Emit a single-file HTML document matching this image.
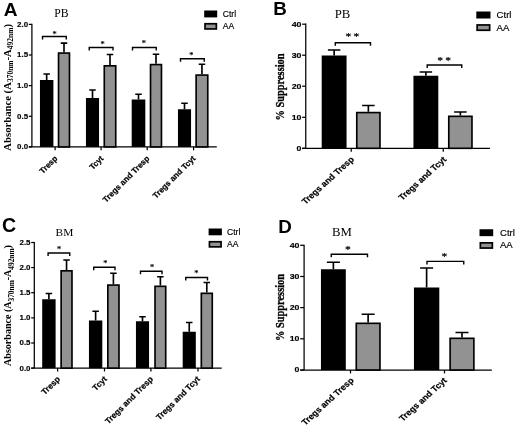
<!DOCTYPE html>
<html lang="en"><head><meta charset="utf-8"><title>Figure</title>
<style>
html,body{margin:0;padding:0;background:#fff;}
body{width:520px;height:427px;overflow:hidden;}
svg{display:block;filter:blur(0.3px);}
text{fill:#000;}
.pl{font:bold 17px "Liberation Sans",Arial,sans-serif;}
.tt{font:12px "Liberation Serif","Times New Roman",serif;}
.yl{font:bold 8px "Liberation Sans",Arial,sans-serif;stroke:#000;stroke-width:0.15px;}
.xl{font:bold 9px "Liberation Sans",Arial,sans-serif;stroke:#000;stroke-width:0.2px;}
.lg{font:8.6px "Liberation Sans",Arial,sans-serif;stroke:#000;stroke-width:0.15px;}
.yt{font:bold 10.5px "Liberation Serif","Times New Roman",serif;}
.star{font:8px "Liberation Serif","Times New Roman",serif;stroke:#000;stroke-width:0.2px;}
</style></head>
<body>
<svg width="520" height="427" viewBox="0 0 520 427">
<rect width="520" height="427" fill="#fff"/>
<text transform="translate(10.6 87.3) rotate(-90)" class="yt" style="font-size:10.7px" text-anchor="middle">Absorbance (A<tspan style="font-size:7.5px" dy="2.2">370nm</tspan><tspan dy="-2.2">-A</tspan><tspan style="font-size:7.5px" dy="2.2">492nm</tspan><tspan dy="-2.2">)</tspan></text>
<text transform="translate(3.70 15.50)" class="pl" style="font-size:19.1px">A</text>
<text transform="translate(61.50 17.30)" class="tt" style="font-size:11.7px" text-anchor="middle">PB</text>
<path d="M31.9 23.799999999999997V146.9M28.799999999999997 146.9H216.8" stroke="#000" stroke-width="1.25" fill="none"/>
<path d="M28.799999999999997 24.4H31.9" stroke="#000" stroke-width="1.25"/>
<text transform="translate(28.10 26.85)" class="yl" style="font-size:7.9px" text-anchor="end">2.0</text>
<path d="M28.799999999999997 55H31.9" stroke="#000" stroke-width="1.25"/>
<text transform="translate(28.10 57.45)" class="yl" style="font-size:7.9px" text-anchor="end">1.5</text>
<path d="M28.799999999999997 85.6H31.9" stroke="#000" stroke-width="1.25"/>
<text transform="translate(28.10 88.05)" class="yl" style="font-size:7.9px" text-anchor="end">1.0</text>
<path d="M28.799999999999997 116.3H31.9" stroke="#000" stroke-width="1.25"/>
<text transform="translate(28.10 118.75)" class="yl" style="font-size:7.9px" text-anchor="end">0.5</text>
<path d="M28.799999999999997 146.9H31.9" stroke="#000" stroke-width="1.25"/>
<text transform="translate(28.10 149.35)" class="yl" style="font-size:7.9px" text-anchor="end">0.0</text>
<path d="M55.1 146.9V150.3" stroke="#000" stroke-width="1.25"/>
<path d="M101.1 146.9V150.3" stroke="#000" stroke-width="1.25"/>
<path d="M147.2 146.9V150.3" stroke="#000" stroke-width="1.25"/>
<path d="M193.6 146.9V150.3" stroke="#000" stroke-width="1.25"/>
<rect x="204.2" y="10.5" width="13" height="6.9" fill="#000"/>
<rect x="205.04999999999998" y="23.75" width="11.3" height="5.2" fill="#929292" stroke="#000" stroke-width="1.7"/>
<text transform="translate(222.70 16.80)" class="lg" style="font-size:8.6px">Ctrl</text>
<text transform="translate(222.70 29.30)" class="lg" style="font-size:8.6px">AA</text>
<path d="M46.67 80.00V74.00M43.42 74.00H49.92" stroke="#000" stroke-width="1.65" fill="none"/>
<rect x="39.95" y="80.00" width="13.45" height="66.90" fill="#000"/>
<path d="M64.00 52.25V43.10M60.75 43.10H67.25" stroke="#000" stroke-width="1.65" fill="none"/>
<rect x="58.53" y="53.08" width="10.95" height="93.83" fill="#929292" stroke="#000" stroke-width="1.65"/>
<path d="M42.50 39.50V36.50H66.25V39.50" stroke="#000" stroke-width="1.4" fill="none"/>
<text transform="translate(54.60 36.73)" class="star" style="font-size:8.4px" text-anchor="middle">*</text>
<path d="M92.50 98.00V90.00M89.25 90.00H95.75" stroke="#000" stroke-width="1.65" fill="none"/>
<rect x="85.95" y="98.00" width="13.10" height="48.90" fill="#000"/>
<path d="M110.00 65.00V54.50M106.75 54.50H113.25" stroke="#000" stroke-width="1.65" fill="none"/>
<rect x="104.28" y="65.83" width="11.45" height="81.08" fill="#929292" stroke="#000" stroke-width="1.65"/>
<path d="M89.25 50.50V47.50H113.00V50.50" stroke="#000" stroke-width="1.4" fill="none"/>
<text transform="translate(102.50 47.23)" class="star" style="font-size:8.4px" text-anchor="middle">*</text>
<path d="M138.50 99.50V94.25M135.25 94.25H141.75" stroke="#000" stroke-width="1.65" fill="none"/>
<rect x="131.70" y="99.50" width="13.60" height="47.40" fill="#000"/>
<path d="M156.00 63.75V54.25M152.75 54.25H159.25" stroke="#000" stroke-width="1.65" fill="none"/>
<rect x="150.52" y="64.58" width="10.95" height="82.33" fill="#929292" stroke="#000" stroke-width="1.65"/>
<path d="M132.50 50.50V47.50H156.25V50.50" stroke="#000" stroke-width="1.4" fill="none"/>
<text transform="translate(143.75 45.98)" class="star" style="font-size:8.4px" text-anchor="middle">*</text>
<path d="M184.50 109.25V103.25M181.25 103.25H187.75" stroke="#000" stroke-width="1.65" fill="none"/>
<rect x="177.95" y="109.25" width="13.10" height="37.65" fill="#000"/>
<path d="M201.95 74.25V64.25M198.70 64.25H205.20" stroke="#000" stroke-width="1.65" fill="none"/>
<rect x="196.12" y="75.08" width="11.65" height="71.83" fill="#929292" stroke="#000" stroke-width="1.65"/>
<path d="M180.50 61.75V58.75H204.25V61.75" stroke="#000" stroke-width="1.4" fill="none"/>
<text transform="translate(191.25 57.83)" class="star" style="font-size:8.4px" text-anchor="middle">*</text>
<text transform="translate(58.00 159.00) rotate(-45)" class="xl" style="font-size:8.1px" text-anchor="end">Tresp</text>
<text transform="translate(104.00 159.00) rotate(-45)" class="xl" style="font-size:8.1px" text-anchor="end">Tcyt</text>
<text transform="translate(150.00 159.00) rotate(-45)" class="xl" style="font-size:8.1px" text-anchor="end">Tregs and Tresp</text>
<text transform="translate(196.00 159.00) rotate(-45)" class="xl" style="font-size:8.1px" text-anchor="end">Tregs and Tcyt</text>
<text transform="translate(284.00 87.00) scale(1.1 1) rotate(-90)" class="yt" style="font-size:10.4px" text-anchor="middle" stroke="#000" stroke-width="0.3">% Suppression</text>
<text transform="translate(273.30 14.80)" class="pl" style="font-size:18.8px">B</text>
<text transform="translate(342.50 18.20) scale(1.1 1)" class="tt" style="font-size:11.6px" text-anchor="middle">PB</text>
<path d="M305.75 23.599999999999998V148.3M302.15 148.3H490" stroke="#000" stroke-width="1.25" fill="none"/>
<path d="M302.15 24.2H305.75" stroke="#000" stroke-width="1.25"/>
<text transform="translate(301.45 26.68) scale(1.1 1)" class="yl" style="font-size:8.0px" text-anchor="end">40</text>
<path d="M302.15 55.2H305.75" stroke="#000" stroke-width="1.25"/>
<text transform="translate(301.45 57.68) scale(1.1 1)" class="yl" style="font-size:8.0px" text-anchor="end">30</text>
<path d="M302.15 86.2H305.75" stroke="#000" stroke-width="1.25"/>
<text transform="translate(301.45 88.68) scale(1.1 1)" class="yl" style="font-size:8.0px" text-anchor="end">20</text>
<path d="M302.15 117.3H305.75" stroke="#000" stroke-width="1.25"/>
<text transform="translate(301.45 119.78) scale(1.1 1)" class="yl" style="font-size:8.0px" text-anchor="end">10</text>
<path d="M302.15 148.3H305.75" stroke="#000" stroke-width="1.25"/>
<text transform="translate(301.45 150.78) scale(1.1 1)" class="yl" style="font-size:8.0px" text-anchor="end">0</text>
<path d="M351.25 148.3V151.70000000000002" stroke="#000" stroke-width="1.25"/>
<path d="M443.25 148.3V151.70000000000002" stroke="#000" stroke-width="1.25"/>
<rect x="476.3" y="11.5" width="14.2" height="7.0" fill="#000"/>
<rect x="477.15000000000003" y="24.950000000000003" width="12.5" height="5.3" fill="#929292" stroke="#000" stroke-width="1.7"/>
<text transform="translate(496.60 17.90) scale(1.1 1)" class="lg" style="font-size:8.7px">Ctrl</text>
<text transform="translate(496.60 30.60) scale(1.1 1)" class="lg" style="font-size:8.7px">AA</text>
<path d="M334.12 55.50V50.00M327.88 50.00H340.38" stroke="#000" stroke-width="1.65" fill="none"/>
<rect x="321.70" y="55.50" width="24.85" height="92.80" fill="#000"/>
<path d="M368.38 111.75V105.50M362.12 105.50H374.62" stroke="#000" stroke-width="1.65" fill="none"/>
<rect x="356.77" y="112.58" width="23.20" height="35.73" fill="#929292" stroke="#000" stroke-width="1.65"/>
<path d="M335.30 45.80V42.80H370.50V45.80" stroke="#000" stroke-width="1.4" fill="none"/>
<text transform="translate(348.30 40.41) scale(1.1 1)" class="star" style="font-size:10.5px" text-anchor="middle">*</text>
<text transform="translate(356.30 40.41) scale(1.1 1)" class="star" style="font-size:10.5px" text-anchor="middle">*</text>
<path d="M425.88 75.75V72.00M419.62 72.00H432.12" stroke="#000" stroke-width="1.65" fill="none"/>
<rect x="413.45" y="75.75" width="24.85" height="72.55" fill="#000"/>
<path d="M460.38 115.50V112.00M454.12 112.00H466.62" stroke="#000" stroke-width="1.65" fill="none"/>
<rect x="448.77" y="116.33" width="23.20" height="31.98" fill="#929292" stroke="#000" stroke-width="1.65"/>
<path d="M427.20 68.00V65.00H461.75V68.00" stroke="#000" stroke-width="1.4" fill="none"/>
<text transform="translate(440.20 63.91) scale(1.1 1)" class="star" style="font-size:10.5px" text-anchor="middle">*</text>
<text transform="translate(448.20 63.91) scale(1.1 1)" class="star" style="font-size:10.5px" text-anchor="middle">*</text>
<text transform="translate(354.60 160.00) scale(1.1 1) rotate(-45)" class="xl" style="font-size:8.25px" text-anchor="end">Tregs and Tresp</text>
<text transform="translate(447.00 160.00) scale(1.1 1) rotate(-45)" class="xl" style="font-size:8.25px" text-anchor="end">Tregs and Tcyt</text>
<text transform="translate(11.3 305.5) rotate(-90)" class="yt" style="font-size:10.05px" text-anchor="middle">Absorbance (A<tspan style="font-size:7.35px" dy="2.3">370nm</tspan><tspan dy="-2.3">-A</tspan><tspan style="font-size:7.35px" dy="2.3">492nm</tspan><tspan dy="-2.3">)</tspan></text>
<text transform="translate(2.00 232.20)" class="pl" style="font-size:19.6px">C</text>
<text transform="translate(64.40 235.80)" class="tt" style="font-size:11.4px" text-anchor="middle">BM</text>
<path d="M34.3 241.9V368.1M31.199999999999996 368.1H221.75" stroke="#000" stroke-width="1.25" fill="none"/>
<path d="M31.199999999999996 242.5H34.3" stroke="#000" stroke-width="1.25"/>
<text transform="translate(30.50 244.95)" class="yl" style="font-size:7.9px" text-anchor="end">2.5</text>
<path d="M31.199999999999996 267.6H34.3" stroke="#000" stroke-width="1.25"/>
<text transform="translate(30.50 270.05)" class="yl" style="font-size:7.9px" text-anchor="end">2.0</text>
<path d="M31.199999999999996 292.7H34.3" stroke="#000" stroke-width="1.25"/>
<text transform="translate(30.50 295.15)" class="yl" style="font-size:7.9px" text-anchor="end">1.5</text>
<path d="M31.199999999999996 317.9H34.3" stroke="#000" stroke-width="1.25"/>
<text transform="translate(30.50 320.35)" class="yl" style="font-size:7.9px" text-anchor="end">1.0</text>
<path d="M31.199999999999996 343.0H34.3" stroke="#000" stroke-width="1.25"/>
<text transform="translate(30.50 345.45)" class="yl" style="font-size:7.9px" text-anchor="end">0.5</text>
<path d="M31.199999999999996 368.1H34.3" stroke="#000" stroke-width="1.25"/>
<text transform="translate(30.50 370.55)" class="yl" style="font-size:7.9px" text-anchor="end">0.0</text>
<path d="M57.6 368.1V371.5" stroke="#000" stroke-width="1.25"/>
<path d="M104.5 368.1V371.5" stroke="#000" stroke-width="1.25"/>
<path d="M150.9 368.1V371.5" stroke="#000" stroke-width="1.25"/>
<path d="M198 368.1V371.5" stroke="#000" stroke-width="1.25"/>
<rect x="208.6" y="228.5" width="13.3" height="6.8" fill="#000"/>
<rect x="209.45" y="241.75" width="11.600000000000001" height="5.1" fill="#929292" stroke="#000" stroke-width="1.7"/>
<text transform="translate(227.00 234.70)" class="lg" style="font-size:8.6px">Ctrl</text>
<text transform="translate(227.00 247.20)" class="lg" style="font-size:8.6px">AA</text>
<path d="M48.90 299.25V293.50M45.65 293.50H52.15" stroke="#000" stroke-width="1.65" fill="none"/>
<rect x="42.20" y="299.25" width="13.40" height="68.85" fill="#000"/>
<path d="M66.55 270.00V260.00M63.30 260.00H69.80" stroke="#000" stroke-width="1.65" fill="none"/>
<rect x="61.13" y="270.82" width="10.85" height="97.28" fill="#929292" stroke="#000" stroke-width="1.65"/>
<path d="M48.10 256.00V253.00H69.75V256.00" stroke="#000" stroke-width="1.4" fill="none"/>
<text transform="translate(59.10 252.22)" class="star" style="font-size:8.4px" text-anchor="middle">*</text>
<path d="M95.62 320.50V311.25M92.38 311.25H98.88" stroke="#000" stroke-width="1.65" fill="none"/>
<rect x="88.95" y="320.50" width="13.35" height="47.60" fill="#000"/>
<path d="M113.40 284.25V273.25M110.15 273.25H116.65" stroke="#000" stroke-width="1.65" fill="none"/>
<rect x="107.83" y="285.07" width="11.15" height="83.03" fill="#929292" stroke="#000" stroke-width="1.65"/>
<path d="M93.75 270.20V267.20H115.00V270.20" stroke="#000" stroke-width="1.4" fill="none"/>
<text transform="translate(105.30 266.23)" class="star" style="font-size:8.4px" text-anchor="middle">*</text>
<path d="M142.50 321.25V316.75M139.25 316.75H145.75" stroke="#000" stroke-width="1.65" fill="none"/>
<rect x="135.95" y="321.25" width="13.10" height="46.85" fill="#000"/>
<path d="M160.38 285.50V276.75M157.12 276.75H163.62" stroke="#000" stroke-width="1.65" fill="none"/>
<rect x="155.02" y="286.32" width="10.70" height="81.78" fill="#929292" stroke="#000" stroke-width="1.65"/>
<path d="M140.50 274.25V271.25H162.00V274.25" stroke="#000" stroke-width="1.4" fill="none"/>
<text transform="translate(152.00 270.23)" class="star" style="font-size:8.4px" text-anchor="middle">*</text>
<path d="M189.25 331.75V322.50M186.00 322.50H192.50" stroke="#000" stroke-width="1.65" fill="none"/>
<rect x="182.70" y="331.75" width="13.10" height="36.35" fill="#000"/>
<path d="M206.80 292.50V282.50M203.55 282.50H210.05" stroke="#000" stroke-width="1.65" fill="none"/>
<rect x="201.32" y="293.32" width="10.95" height="74.78" fill="#929292" stroke="#000" stroke-width="1.65"/>
<path d="M185.75 280.50V277.50H207.50V280.50" stroke="#000" stroke-width="1.4" fill="none"/>
<text transform="translate(196.25 276.48)" class="star" style="font-size:8.4px" text-anchor="middle">*</text>
<text transform="translate(60.50 379.60) rotate(-45)" class="xl" style="font-size:8.3px" text-anchor="end">Tresp</text>
<text transform="translate(107.50 379.60) rotate(-45)" class="xl" style="font-size:8.3px" text-anchor="end">Tcyt</text>
<text transform="translate(153.50 379.60) rotate(-45)" class="xl" style="font-size:8.3px" text-anchor="end">Tregs and Tresp</text>
<text transform="translate(200.50 379.60) rotate(-45)" class="xl" style="font-size:8.3px" text-anchor="end">Tregs and Tcyt</text>
<text transform="translate(284.00 307.50) scale(1.1 1) rotate(-90)" class="yt" style="font-size:10.4px" text-anchor="middle" stroke="#000" stroke-width="0.3">% Suppression</text>
<text transform="translate(278.20 232.70)" class="pl" style="font-size:18.8px">D</text>
<text transform="translate(341.90 236.30) scale(1.1 1)" class="tt" style="font-size:11.6px" text-anchor="middle">BM</text>
<path d="M304.1 244.70000000000002V370.0M300.20000000000005 370.0H491.8" stroke="#000" stroke-width="1.25" fill="none"/>
<path d="M300.20000000000005 245.3H304.1" stroke="#000" stroke-width="1.25"/>
<text transform="translate(299.50 247.78) scale(1.1 1)" class="yl" style="font-size:8.0px" text-anchor="end">40</text>
<path d="M300.20000000000005 276.5H304.1" stroke="#000" stroke-width="1.25"/>
<text transform="translate(299.50 278.98) scale(1.1 1)" class="yl" style="font-size:8.0px" text-anchor="end">30</text>
<path d="M300.20000000000005 307.6H304.1" stroke="#000" stroke-width="1.25"/>
<text transform="translate(299.50 310.08) scale(1.1 1)" class="yl" style="font-size:8.0px" text-anchor="end">20</text>
<path d="M300.20000000000005 338.8H304.1" stroke="#000" stroke-width="1.25"/>
<text transform="translate(299.50 341.28) scale(1.1 1)" class="yl" style="font-size:8.0px" text-anchor="end">10</text>
<path d="M300.20000000000005 370.0H304.1" stroke="#000" stroke-width="1.25"/>
<text transform="translate(299.50 372.48) scale(1.1 1)" class="yl" style="font-size:8.0px" text-anchor="end">0</text>
<path d="M350.5 370.0V373.4" stroke="#000" stroke-width="1.25"/>
<path d="M444.5 370.0V373.4" stroke="#000" stroke-width="1.25"/>
<rect x="479.5" y="229.25" width="13.7" height="6.9" fill="#000"/>
<rect x="480.35" y="242.85" width="12.0" height="5.2" fill="#929292" stroke="#000" stroke-width="1.7"/>
<text transform="translate(500.00 235.55) scale(1.1 1)" class="lg" style="font-size:8.7px">Ctrl</text>
<text transform="translate(500.00 248.40) scale(1.1 1)" class="lg" style="font-size:8.7px">AA</text>
<path d="M333.38 269.25V262.25M326.88 262.25H339.88" stroke="#000" stroke-width="1.65" fill="none"/>
<rect x="320.95" y="269.25" width="24.85" height="100.75" fill="#000"/>
<path d="M368.12 322.50V314.25M361.62 314.25H374.62" stroke="#000" stroke-width="1.65" fill="none"/>
<rect x="356.27" y="323.32" width="23.70" height="46.67" fill="#929292" stroke="#000" stroke-width="1.65"/>
<path d="M331.25 257.20V254.20H367.50V257.20" stroke="#000" stroke-width="1.4" fill="none"/>
<text transform="translate(348.00 253.16) scale(1.1 1)" class="star" style="font-size:10.5px" text-anchor="middle">*</text>
<path d="M426.62 287.50V268.00M420.12 268.00H433.12" stroke="#000" stroke-width="1.65" fill="none"/>
<rect x="413.95" y="287.50" width="25.35" height="82.50" fill="#000"/>
<path d="M462.00 337.50V332.50M455.50 332.50H468.50" stroke="#000" stroke-width="1.65" fill="none"/>
<rect x="450.12" y="338.32" width="23.75" height="31.68" fill="#929292" stroke="#000" stroke-width="1.65"/>
<path d="M427.00 264.40V261.40H463.75V264.40" stroke="#000" stroke-width="1.4" fill="none"/>
<text transform="translate(444.50 259.91) scale(1.1 1)" class="star" style="font-size:10.5px" text-anchor="middle">*</text>
<text transform="translate(354.30 381.00) scale(1.1 1) rotate(-45)" class="xl" style="font-size:8.25px" text-anchor="end">Tregs and Tresp</text>
<text transform="translate(447.50 381.00) scale(1.1 1) rotate(-45)" class="xl" style="font-size:8.25px" text-anchor="end">Tregs and Tcyt</text>
</svg>
</body></html>
